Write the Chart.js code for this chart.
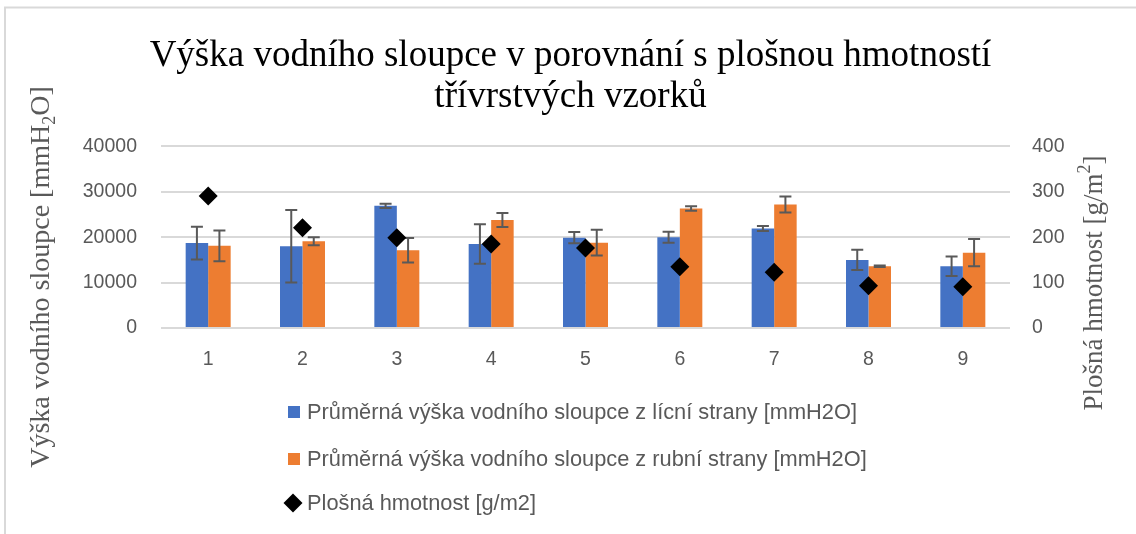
<!DOCTYPE html>
<html><head><meta charset="utf-8">
<script src="https://cdn.jsdelivr.net/npm/chart.js@4.4.1/dist/chart.umd.min.js"></script>
<style>html,body{margin:0;padding:0;background:#fff;} canvas{display:block;}</style>
</head><body>
<canvas id="c" width="1136" height="534"></canvas>
<script>
const categories = ['1', '2', '3', '4', '5', '6', '7', '8', '9'];
const faceMeans  = [18700, 18000, 26900, 18500, 19900, 20000, 21900, 15000, 13600];
const faceErrors = [3600, 8000, 450, 4350, 1250, 1200, 550, 2250, 2150];
const backMeans  = [18100, 19100, 17100, 23800, 18800, 26300, 27200, 13600, 16600];
const backErrors = [3400, 900, 2700, 1550, 2850, 500, 1750, 150, 3000];
const arealMass  = [291, 221, 199, 185, 176, 135, 123, 93, 91];
const seriesLabels = [
  'Průměrná výška vodního sloupce z lícní strany [mmH2O]',
  'Průměrná výška vodního sloupce z rubní strany [mmH2O]',
  'Plošná hmotnost [g/m2]'
];
const titleLines = ['Výška vodního sloupce v porovnání s plošnou hmotností', 'třívrstvých vzorků'];
const leftAxisTitle = ['Výška vodního sloupce [mmH', '2', 'O]'];
const rightAxisTitle = ['Plošná hmotnost [g/m', '2', ']'];

const GRAY = '#595959';
const SANS = '"Liberation Sans", Arial, sans-serif';
const SERIF = '"Liberation Serif", "Times New Roman", serif';

const framePlugin = {
  id: 'frame',
  beforeDraw(chart) {
    const ctx = chart.ctx;
    ctx.save();
    ctx.fillStyle = '#fff';
    ctx.fillRect(0, 0, chart.width, chart.height);
    ctx.strokeStyle = '#d9d9d9';
    ctx.lineWidth = 2;
    ctx.beginPath();
    ctx.moveTo(5, chart.height);
    ctx.lineTo(5, 7.5);
    ctx.lineTo(chart.width, 7.5);
    ctx.stroke();
    ctx.restore();
  }
};

const errorBarPlugin = {
  id: 'errorBars',
  afterDatasetDraw(chart, args) {
    const ds = chart.data.datasets[args.index];
    if (!ds.errors) return;
    const y = chart.scales.y;
    const ctx = chart.ctx;
    ctx.save();
    ctx.strokeStyle = GRAY;
    ctx.lineWidth = 2;
    args.meta.data.forEach((bar, i) => {
      const v = ds.data[i], e = ds.errors[i];
      const top = y.getPixelForValue(v + e), bot = y.getPixelForValue(v - e);
      const x = bar.x;
      ctx.beginPath();
      ctx.moveTo(x, top); ctx.lineTo(x, bot);
      ctx.moveTo(x - 6, top); ctx.lineTo(x + 6, top);
      ctx.moveTo(x - 6, bot); ctx.lineTo(x + 6, bot);
      ctx.stroke();
    });
    ctx.restore();
  }
};

function drawRich(ctx, parts, cx, cy, rot) {
  ctx.save();
  ctx.translate(cx, cy);
  ctx.rotate(rot);
  ctx.textAlign = 'left';
  ctx.textBaseline = 'middle';
  let total = 0;
  parts.forEach(p => { ctx.font = p.font; p.w = ctx.measureText(p.text).width; total += p.w; });
  let x = -total / 2;
  parts.forEach(p => { ctx.font = p.font; ctx.fillStyle = p.color; ctx.fillText(p.text, x, p.dy); x += p.w; });
  ctx.restore();
}

const axisTitlePlugin = {
  id: 'axisTitles',
  afterDraw(chart) {
    const ctx = chart.ctx;
    const s = 28, r = 27;
    drawRich(ctx, [
      {text: leftAxisTitle[0], font: s + 'px ' + SERIF, dy: 0, color: GRAY},
      {text: leftAxisTitle[1], font: Math.round(s * 0.65) + 'px ' + SERIF, dy: s * 0.3, color: GRAY},
      {text: leftAxisTitle[2], font: s + 'px ' + SERIF, dy: 0, color: GRAY}
    ], 42, 277, -Math.PI / 2);
    drawRich(ctx, [
      {text: rightAxisTitle[0], font: r + 'px ' + SERIF, dy: 0, color: GRAY},
      {text: rightAxisTitle[1], font: Math.round(r * 0.65) + 'px ' + SERIF, dy: -r * 0.35, color: GRAY},
      {text: rightAxisTitle[2], font: r + 'px ' + SERIF, dy: 0, color: GRAY}
    ], 1095, 283, -Math.PI / 2);
  }
};

const legendPlugin = {
  id: 'customLegend',
  afterDraw(chart) {
    const ctx = chart.ctx;
    const rows = [412, 459, 503];
    ctx.save();
    ctx.font = '21.8px ' + SANS;
    ctx.textBaseline = 'middle';
    ctx.textAlign = 'left';
    chart.data.datasets.forEach((ds, i) => {
      const y = rows[i];
      ctx.fillStyle = ds.backgroundColor;
      if (ds.type === 'line') {
        ctx.beginPath();
        ctx.moveTo(293, y - 9.5); ctx.lineTo(302.5, y); ctx.lineTo(293, y + 9.5); ctx.lineTo(283.5, y);
        ctx.closePath(); ctx.fill();
      } else {
        ctx.fillRect(288, y - 6, 12, 12);
      }
      ctx.fillStyle = GRAY;
      ctx.fillText(ds.label, 307, y + 1);
    });
    ctx.restore();
  }
};

const plainTick = v => String(v);

new Chart(document.getElementById('c'), {
  data: {
    labels: categories,
    datasets: [
      {type: 'bar', label: seriesLabels[0], data: faceMeans, errors: faceErrors, backgroundColor: '#4472C4',
       yAxisID: 'y', order: 1, categoryPercentage: 0.477, barPercentage: 1.0, borderWidth: 0},
      {type: 'bar', label: seriesLabels[1], data: backMeans, errors: backErrors, backgroundColor: '#ED7D31',
       yAxisID: 'y', order: 1, categoryPercentage: 0.477, barPercentage: 1.0, borderWidth: 0},
      {type: 'line', label: seriesLabels[2], data: arealMass, backgroundColor: '#000', borderColor: '#000',
       yAxisID: 'y1', order: 0, showLine: false, pointStyle: 'rectRot', pointRadius: 9.5, pointHoverRadius: 9.5, borderWidth: 0}
    ]
  },
  options: {
    responsive: false,
    animation: false,
    layout: {padding: {left: 5, right: 0, top: 0, bottom: 166}},
    plugins: {
      legend: {display: false},
      tooltip: {enabled: false},
      title: {
        display: true,
        text: titleLines,
        color: '#000',
        font: {family: SERIF, size: 37, weight: 'normal', lineHeight: 1.1},
        padding: {top: 36, bottom: 29}
      }
    },
    scales: {
      x: {
        grid: {display: false, drawTicks: false},
        border: {display: false},
        ticks: {color: GRAY, font: {family: SANS, size: 19.5}, padding: 20},
        afterFit(scale) { scale.height = 40; }
      },
      y: {
        position: 'left',
        min: 0, max: 40000,
        ticks: {stepSize: 10000, color: GRAY, font: {family: SANS, size: 19.5}, padding: 24, callback: plainTick},
        grid: {color: '#d9d9d9', lineWidth: 2, drawTicks: false},
        border: {display: false},
        afterFit(scale) { scale.width = 156; }
      },
      y1: {
        position: 'right',
        min: 0, max: 400,
        ticks: {stepSize: 100, color: GRAY, font: {family: SANS, size: 19.5}, padding: 22, callback: plainTick},
        grid: {display: false, drawTicks: false},
        border: {display: false},
        afterFit(scale) { scale.width = 126; }
      }
    }
  },
  plugins: [framePlugin, errorBarPlugin, axisTitlePlugin, legendPlugin]
});
</script>
</body></html>
